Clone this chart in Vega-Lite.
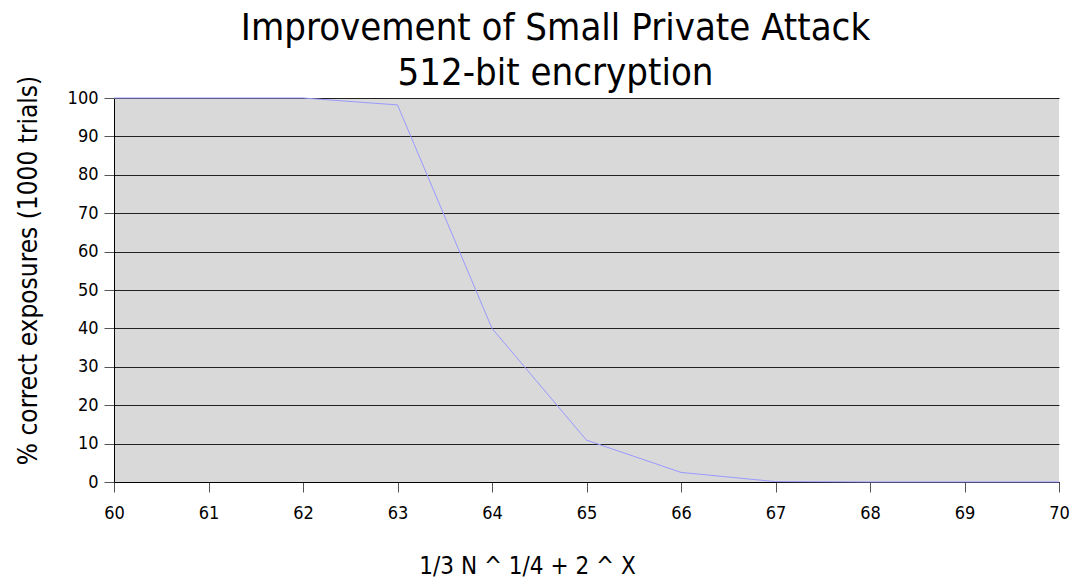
{
  "$schema": "https://vega.github.io/schema/vega-lite/v6.json",
  "autosize": "none",
  "width": 945,
  "height": 384,
  "padding": {"left": 114, "top": 98, "right": 15, "bottom": 97},
  "background": "white",
  "config": {
    "view": {"fill": "#d9d9d9", "stroke": null},
    "font": "DejaVu Sans Condensed"
  },
  "title": {
    "text": ["Improvement of Small Private Attack", "512-bit encryption"],
    "font": "DejaVu Sans Condensed",
    "fontSize": 38,
    "fontWeight": "normal",
    "color": "black",
    "anchor": "middle",
    "frame": "group",
    "dx": -31,
    "dy": 18,
    "lineHeight": 45,
    "offset": 0
  },
  "data": {
    "values": [
      {"x": 60, "y": 100},
      {"x": 61, "y": 100},
      {"x": 62, "y": 100},
      {"x": 63, "y": 98.2},
      {"x": 64, "y": 40},
      {"x": 65, "y": 10.9},
      {"x": 66, "y": 2.5},
      {"x": 67, "y": 0.1},
      {"x": 68, "y": 0},
      {"x": 69, "y": 0},
      {"x": 70, "y": 0}
    ]
  },
  "mark": {"type": "line", "color": "#9999ff", "strokeWidth": 1},
  "encoding": {
    "x": {
      "field": "x",
      "type": "quantitative",
      "scale": {"domain": [60, 70], "nice": false, "zero": false},
      "axis": {
        "values": [60, 61, 62, 63, 64, 65, 66, 67, 68, 69, 70],
        "title": "1/3 N ^ 1/4 + 2 ^ X",
        "titleFont": "DejaVu Sans Condensed",
        "titleFontSize": 24,
        "titleFontWeight": "normal",
        "titleColor": "black",
        "titlePadding": 32,
        "titleX": 413,
        "labelFont": "DejaVu Sans Condensed",
        "labelFontSize": 18,
        "labelColor": "black",
        "labelPadding": 12,
        "tickSize": 10,
        "tickColor": "#555555",
        "domainColor": "black",
        "grid": false,
        "labelFlush": false
      }
    },
    "y": {
      "field": "y",
      "type": "quantitative",
      "scale": {"domain": [0, 100], "nice": false},
      "axis": {
        "values": [0, 10, 20, 30, 40, 50, 60, 70, 80, 90, 100],
        "title": "% correct exposures (1000 trials)",
        "titleFont": "DejaVu Sans Condensed",
        "titleFontSize": 26,
        "titleFontWeight": "normal",
        "titleColor": "black",
        "titlePadding": 26,
        "titleY": 172,
        "labelFont": "DejaVu Sans Condensed",
        "labelFontSize": 18,
        "labelColor": "black",
        "labelPadding": 6,
        "tickSize": 10,
        "tickColor": "#555555",
        "domainColor": "black",
        "grid": true,
        "gridColor": "black",
        "gridOpacity": 0.85,
        "labelFlush": false
      }
    }
  }
}
